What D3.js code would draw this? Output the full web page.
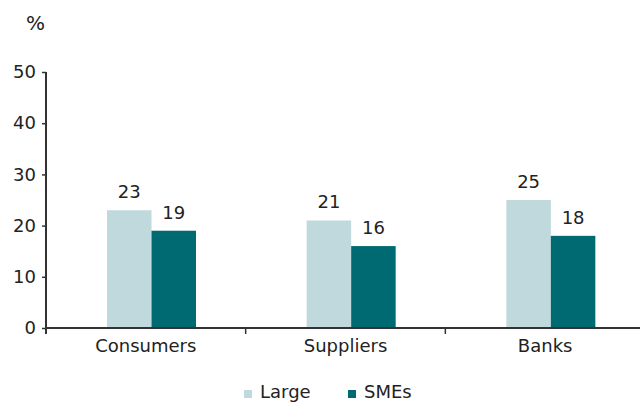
<!DOCTYPE html>
<html>
<head>
<meta charset="utf-8">
<script src="https://cdn.jsdelivr.net/npm/d3@7"></script>
<style>
  html, body { margin: 0; padding: 0; background: #fff; }
  svg { display: block; font-family: "DejaVu Sans", Verdana, sans-serif; }
</style>
</head>
<body>
<svg id="chart" width="640" height="403"></svg>
<script>
// Share of firms, by counterparty and firm size (%)
const categories = ["Consumers", "Suppliers", "Banks"];
const seriesNames = ["Large", "SMEs"];
const largeValues = [23, 21, 25];
const smeValues = [19, 16, 18];
const yTicks = [0, 10, 20, 30, 40, 50];
const colors = ["#c0d9dd", "#006a72"];

const rows = categories.map((c, i) => ({ category: c, values: [largeValues[i], smeValues[i]] }));

const svg = d3.select("#chart");
const textColor = "#222";
const axisColor = "#333";
const fontSize = 18;

const x0 = d3.scaleBand().domain(categories).range([46, 645]).padding(0);
const x1 = d3.scaleBand().domain(seriesNames).range([61, 150]).padding(0);
const y = d3.scaleLinear().domain([0, 50]).range([328, 72]);

// Bars
const groups = svg.append("g").selectAll("g")
  .data(rows).join("g")
  .attr("transform", d => `translate(${x0(d.category)},0)`);

groups.selectAll("rect")
  .data(d => d.values.map((v, j) => ({ key: seriesNames[j], value: v, j })))
  .join("rect")
  .attr("x", d => x1(d.key))
  .attr("y", d => y(d.value))
  .attr("width", x1.bandwidth())
  .attr("height", d => y(0) - y(d.value))
  .attr("fill", d => colors[d.j]);

// Value labels
groups.selectAll("text")
  .data(d => d.values.map((v, j) => ({ key: seriesNames[j], value: v })))
  .join("text")
  .attr("x", d => x1(d.key) + x1.bandwidth() / 2)
  .attr("y", d => y(d.value) - 12)
  .attr("text-anchor", "middle")
  .attr("font-size", fontSize)
  .attr("fill", textColor)
  .text(d => d.value);

// Y axis
const yAxis = svg.append("g")
  .attr("transform", "translate(46,0)")
  .call(d3.axisLeft(y).tickValues(yTicks).tickSize(4).tickPadding(6).tickFormat(d3.format("d")));
yAxis.select(".domain").attr("d", `M0,${y(50)}V${y(0) + 6}`).attr("stroke", axisColor).attr("stroke-width", 2);
yAxis.selectAll(".tick line").attr("stroke", axisColor).attr("stroke-width", 1.5);
yAxis.selectAll(".tick text").attr("font-size", fontSize).attr("fill", textColor)
  .attr("font-family", "DejaVu Sans, Verdana, sans-serif");

// X axis: baseline, boundary ticks and category labels
const xAxis = svg.append("g");
xAxis.append("line")
  .attr("x1", 46).attr("x2", 640)
  .attr("y1", y(0)).attr("y2", y(0))
  .attr("stroke", axisColor).attr("stroke-width", 2);
xAxis.selectAll("line.tick")
  .data(categories.slice(1)).join("line")
  .attr("class", "tick")
  .attr("x1", d => x0(d)).attr("x2", d => x0(d))
  .attr("y1", y(0)).attr("y2", y(0) + 6)
  .attr("stroke", axisColor).attr("stroke-width", 1.5);
xAxis.selectAll("text")
  .data(categories).join("text")
  .attr("x", d => x0(d) + x0.bandwidth() / 2)
  .attr("y", 352)
  .attr("text-anchor", "middle")
  .attr("font-size", fontSize)
  .attr("fill", textColor)
  .text(d => d);

// Unit label
svg.append("text")
  .attr("x", 26).attr("y", 30)
  .attr("font-size", 20)
  .attr("fill", textColor)
  .text("%");

// Legend
const legendX = [244, 348];
const legend = svg.append("g").selectAll("g")
  .data(seriesNames).join("g")
  .attr("transform", (d, i) => `translate(${legendX[i]},0)`);
legend.append("rect")
  .attr("x", 0).attr("y", 390)
  .attr("width", 8).attr("height", 8)
  .attr("fill", (d, i) => colors[i]);
legend.append("text")
  .attr("x", 16).attr("y", 398)
  .attr("font-size", fontSize)
  .attr("fill", textColor)
  .text(d => d);
</script>
</body>
</html>
